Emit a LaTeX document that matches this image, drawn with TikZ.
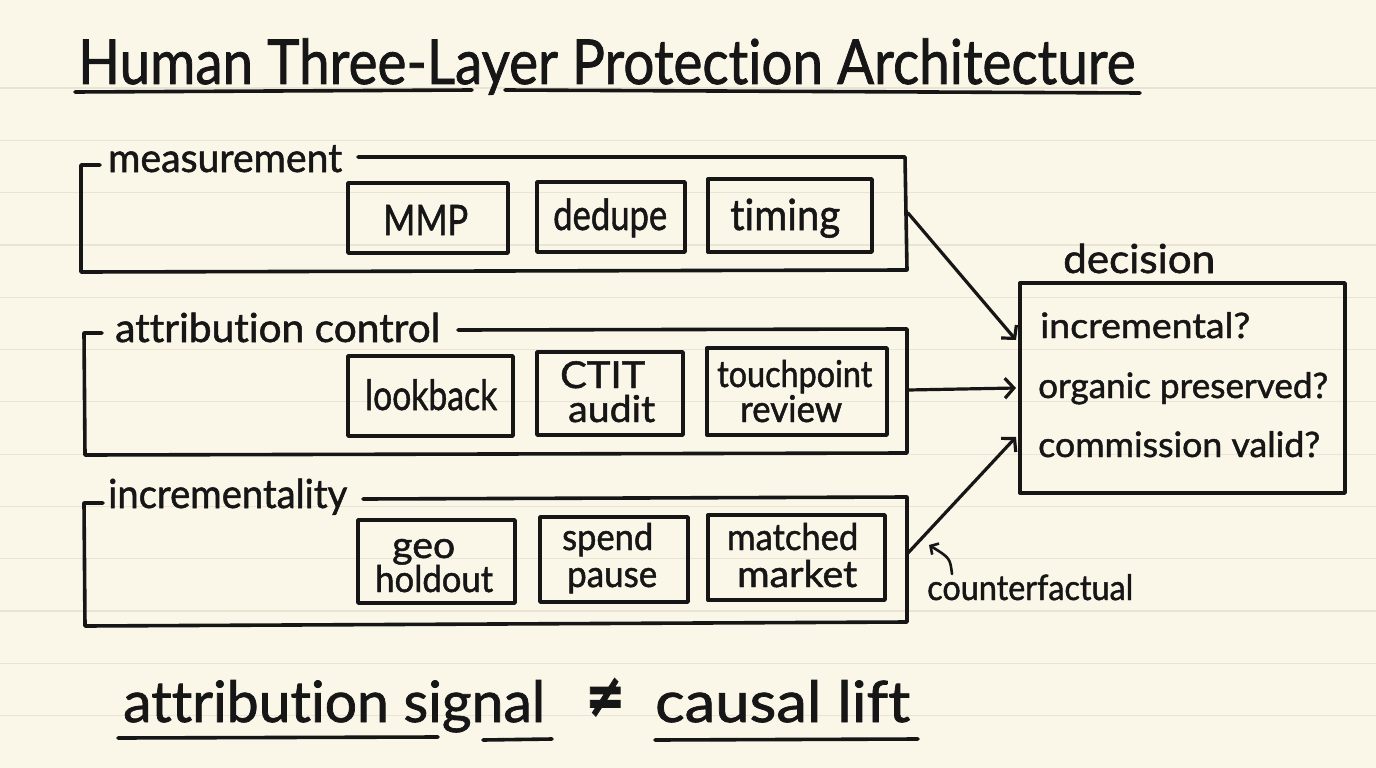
\documentclass[tikz,border=0pt]{standalone}
\usepackage{fontspec}
\setmainfont{Lato}[Ligatures=NoCommon, BoldFont=Lato, BoldFeatures={FakeBold=1.3}]
\newfontfamily\symfont{DejaVu Sans}[FakeBold=1.5]
\usetikzlibrary{arrows.meta}
\definecolor{paper}{RGB}{250,246,232}
\definecolor{ruleline}{RGB}{233,228,212}
\definecolor{ink}{RGB}{22,22,22}
\newcommand\handw[3]{\resizebox{#1pt}{\height}{\fontsize{#2pt}{#2pt}\selectfont\bfseries #3}}
\begin{document}
\begin{tikzpicture}[x=1pt,y=-1pt,
  frame/.style={draw=ink, line width=3.6pt, line cap=round, line join=round},
  box/.style={draw=ink, line width=3.4pt, inner sep=0pt, line join=round},
  txt/.style={inner sep=0pt, anchor=base west, text=ink},
  arr/.style={draw=ink, line width=3.2pt, line cap=round, -{Straight Barb[length=9pt,width=20pt,line width=3.2pt]}},
  small arr/.style={draw=ink, line width=2.6pt, line cap=round, -{Straight Barb[length=6pt,width=13pt,line width=2.6pt]}}]
\useasboundingbox (0,0) rectangle (1376,768);
\fill[paper] (0,0) rectangle (1376,768);
\foreach \k in {0,...,12} {
  \draw[ruleline, line width=1.2pt] (0,{88+52.3*\k}) -- (1376,{88+52.3*\k});
}

% title
\node[txt] (title) at (78,84) {\handw{1057}{62}{Human Three-Layer Protection Architecture}};
\draw[frame] (75,92) -- (472,90);
\draw[frame] (505,90) -- (1140,93);

% group 1: measurement
\draw[frame] (100,165) -- (81,165) -- (81,272) -- (907,270) -- (905,157) -- (358,157);
\node[txt] (g1l) at (108,172) {\handw{234}{40}{measurement}};
\coordinate (g1e) at (908,213);
\node[box, minimum width=160pt, minimum height=70pt] (mmp) at (428,218) {};
\node[txt] (mmpt) at (383,235) {\handw{85}{42}{MMP}};
\node[box, minimum width=148pt, minimum height=70pt] (ded) at (611,217) {};
\node[txt] (dedt) at (553,230) {\handw{114}{43}{dedupe}};
\node[box, minimum width=164pt, minimum height=73pt] (tim) at (790,215.5) {};
\node[txt] (timt) at (730,230) {\handw{110}{43}{timing}};

% group 2: attribution control
\draw[frame] (102,333) -- (84,333) -- (85,455) -- (907,453) -- (907,329) -- (458,330);
\node[txt] (g2l) at (115,342) {\handw{325}{40}{attribution control}};
\coordinate (g2e) at (908,390);
\node[box, minimum width=165pt, minimum height=80pt] (lbk) at (430.5,396) {};
\node[txt] (lbkt) at (365,410) {\handw{132}{42}{lookback}};
\node[box, minimum width=146pt, minimum height=83pt] (cti) at (610,393.5) {};
\node[txt] (cti1) at (560,388) {\handw{85}{37}{CTIT}};
\node[txt] (cti2) at (568,422) {\handw{87}{37}{audit}};
\node[box, minimum width=180pt, minimum height=87pt] (tch) at (797,391.5) {};
\node[txt] (tch1) at (717,387) {\handw{155}{37}{touchpoint}};
\node[txt] (tch2) at (740,422) {\handw{102}{37}{review}};

% group 3: incrementality
\draw[frame] (103,503) -- (84,503) -- (85,626) -- (907,622) -- (907,497) -- (363,499);
\node[txt] (g3l) at (108,508) {\handw{239}{40}{incrementality}};
\coordinate (g3e) at (908,553);
\node[box, minimum width=157pt, minimum height=83pt] (geo) at (436.5,561.5) {};
\node[txt] (geo1) at (392,558) {\handw{63}{37}{geo}};
\node[txt] (geo2) at (375,592) {\handw{118}{37}{holdout}};
\node[box, minimum width=148pt, minimum height=85pt] (spd) at (614,559.5) {};
\node[txt] (spd1) at (562,550) {\handw{91}{37}{spend}};
\node[txt] (spd2) at (567,587) {\handw{90}{37}{pause}};
\node[box, minimum width=177pt, minimum height=85pt] (mtc) at (796.5,557.5) {};
\node[txt] (mtc1) at (727,550) {\handw{131}{37}{matched}};
\node[txt] (mtc2) at (737,587) {\handw{120}{37}{market}};

% decision
\node[txt] (decl) at (1063,273) {\handw{152}{40}{decision}};
\node[box, minimum width=325pt, minimum height=210pt] (dec) at (1182.5,388) {};
\node[txt] (q1) at (1040,338) {\handw{210}{35}{incremental?}};
\node[txt] (q2) at (1038,398) {\handw{290}{35}{organic preserved?}};
\node[txt] (q3) at (1038,457) {\handw{282}{35}{commission valid?}};
\coordinate (d1) at (1016,340);
\coordinate (d2) at (1016,388);
\coordinate (d3) at (1016,437);

% connectors
\draw[arr] (g1e) -- (d1);
\draw[arr] (g2e) -- (d2);
\draw[arr] (g3e) -- (d3);

% counterfactual note
\node[txt] (cf) at (927,600) {\handw{206}{35}{counterfactual}};
\coordinate (cfs) at (952,574);
\coordinate (cft) at (929,545);
\draw[small arr] (cfs) .. controls (950,558) .. (cft);

% bottom statement
\node[txt] (b1) at (123,722) {\handw{422}{57}{attribution signal}};
\node[txt] (b2) at (585,716) {\handw{40}{60}{\symfont ≠}};
\node[txt] (b3) at (655,722) {\handw{255}{57}{causal lift}};
\draw[frame] (118,738) -- (438,737);
\draw[frame] (483,740) -- (552,739);
\draw[frame] (655,740) -- (918,739);
\end{tikzpicture}
\end{document}
